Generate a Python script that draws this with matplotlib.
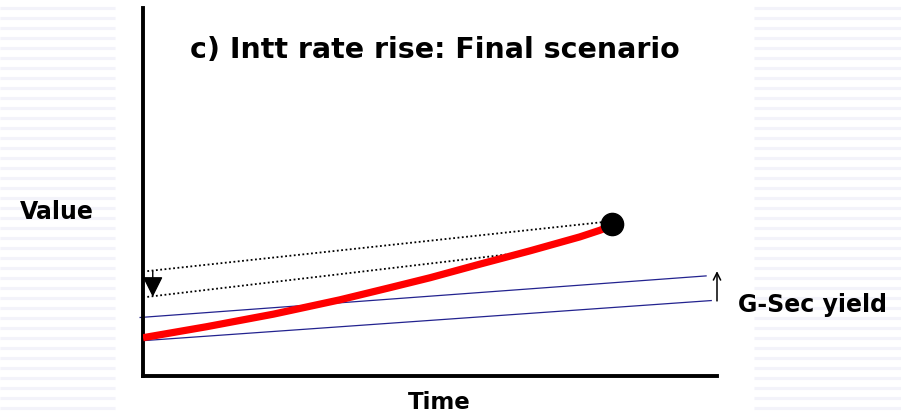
import numpy as np
import matplotlib
matplotlib.use("Agg")
import matplotlib.pyplot as plt

# --- data (arbitrary time / value units) ---
time = [0, 1.11, 2.27, 3.43, 4.3, 5.0, 5.87, 6.74, 7.61, 7.96, 8.17]
value = [1.04, 1.34, 1.68, 2.07, 2.4, 2.67, 3.04, 3.4, 3.78, 3.96, 4.09]

dotted_top_x = [0.075, 8.0]
dotted_top_y = [2.85, 4.18]
dotted_low_x = [0.075, 6.6]
dotted_low_y = [2.15, 3.35]

gsec_top_x = [-0.05, 9.81]
gsec_top_y = [1.59, 2.72]
gsec_low_x = [0.0, 9.9]
gsec_low_y = [0.96, 2.05]

drop_x, drop_from, drop_to = 0.17, 2.85, 2.15
rise_x, rise_from, rise_to = 10.0, 2.04, 2.85

title = "c) Intt rate rise: Final scenario"

fig = plt.figure(figsize=(9.01, 4.18), dpi=100)
fig.patch.set_facecolor("white")

# faint striped slide background at the sides
bg = fig.add_axes([0, 0, 1, 1])
bg.set_xlim(0, 901)
bg.set_ylim(418, 0)
bg.axis("off")
stripe_y = np.arange(8, 414, 10)
bg.hlines(stripe_y, 0, 115, color="#f3f3fa", lw=2.2)
bg.hlines(stripe_y, 754, 901, color="#f3f3fa", lw=2.2)

ax = fig.add_axes([143 / 901, 42 / 418, 574 / 901, 368 / 418])
ax.set_xlim(0, 10)
ax.set_ylim(0, 10)
ax.patch.set_alpha(0)
for s in ["top", "right"]:
    ax.spines[s].set_visible(False)
for s in ["left", "bottom"]:
    ax.spines[s].set_linewidth(2.8)
    ax.spines[s].set_color("black")
ax.set_xticks([])
ax.set_yticks([])

ax.plot(gsec_top_x, gsec_top_y, color="#23238f", lw=0.9, clip_on=False)
ax.plot(gsec_low_x, gsec_low_y, color="#23238f", lw=0.9, clip_on=False)
ax.plot(dotted_top_x, dotted_top_y, color="black", lw=1.3, ls=(0, (1, 1.4)))
ax.plot(dotted_low_x, dotted_low_y, color="black", lw=1.3, ls=(0, (1, 1.4)))
ax.plot(time, value, color="#ff0000", lw=5.2, solid_capstyle="butt",
        solid_joinstyle="round", zorder=3)
ax.plot(time[-1], value[-1] + 0.04, "o", color="black", ms=16, zorder=4)

ax.annotate("", xy=(drop_x, drop_to), xytext=(drop_x, drop_from),
            arrowprops=dict(arrowstyle="-|>,head_length=0.7,head_width=0.35",
                            color="black", lw=1, mutation_scale=18,
                            shrinkA=0, shrinkB=0))
ax.annotate("", xy=(rise_x, rise_to), xytext=(rise_x, rise_from),
            arrowprops=dict(arrowstyle="->", color="black", lw=1.1,
                            mutation_scale=13, shrinkA=0, shrinkB=0),
            annotation_clip=False)

fig.text(0.483, 0.880, title, fontsize=20.5, fontweight="bold",
         ha="center", va="center")
fig.text(0.063, 0.493, "Value", fontsize=17, fontweight="bold",
         ha="center", va="center")
fig.text(0.902, 0.270, "G-Sec yield", fontsize=17, fontweight="bold",
         ha="center", va="center")
fig.text(0.487, 0.036, "Time", fontsize=16.5, fontweight="bold",
         ha="center", va="center")

fig.savefig("out.png", dpi=100)
